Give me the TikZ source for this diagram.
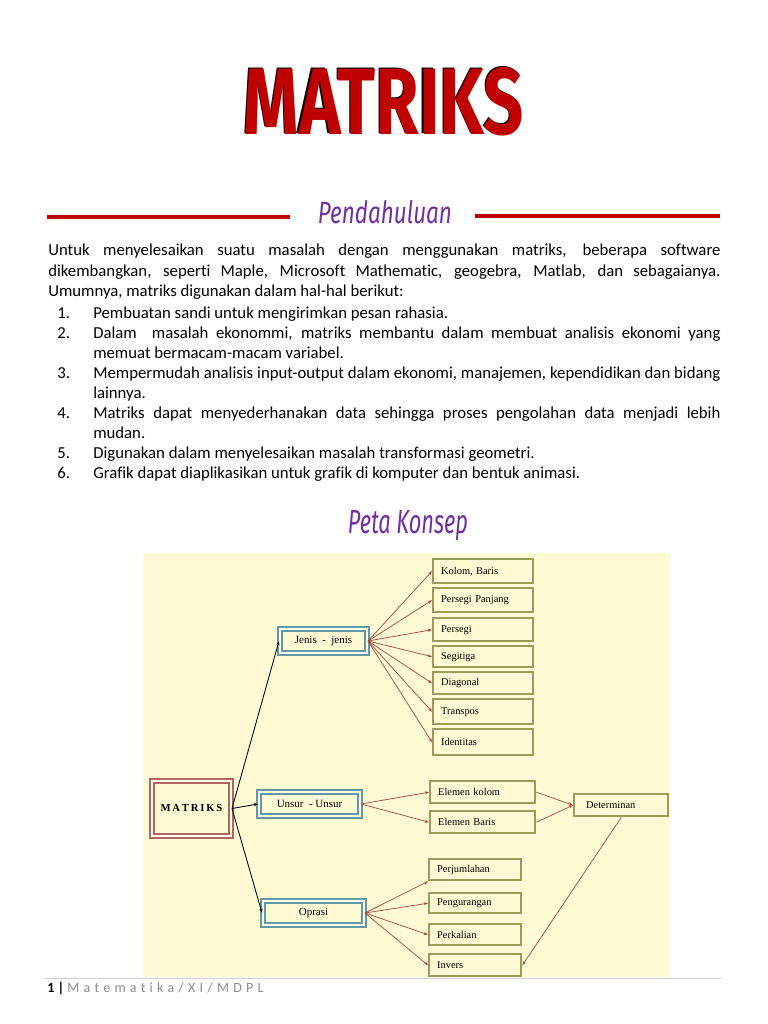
\documentclass[tikz,border=0pt]{standalone}
\usepackage{fontspec}
\setmainfont{Carlito}[Ligatures=NoCommon]
\newfontfamily\mapfont{Liberation Serif}
\newfontfamily\headfont{Fira Sans}
\newfontfamily\footfont{Carlito}[LetterSpace=30, Ligatures=NoCommon]
\usetikzlibrary{arrows.meta}

\definecolor{titlered}{RGB}{192,0,0}
\definecolor{headpurple}{RGB}{112,48,160}
\definecolor{mapbg}{RGB}{254,250,212}
\definecolor{boxolive}{RGB}{155,155,92}
\definecolor{boxteal}{RGB}{98,152,162}
\definecolor{boxrose}{RGB}{176,100,100}
\definecolor{innerfill}{RGB}{255,253,236}
\definecolor{linkred}{RGB}{165,70,60}

\newcommand{\jline}[2]{\makebox[#1][s]{#2}}

\begin{document}
\begin{tikzpicture}[
    x=0.025cm, y=-0.025cm,
    body/.style={anchor=base west, inner sep=0pt, font=\fontsize{11.9}{14}\selectfont},
    leaf/.style={draw=boxolive, line width=1.7pt, fill=mapbg, anchor=north west, inner xsep=0.2cm, inner ysep=0pt, align=left, font=\mapfont\fontsize{7.4}{8}\selectfont, text width=#1},
    branch/.style={draw=boxteal, double=innerfill, double distance=0.8pt, line width=1.4pt, inner sep=0pt, font=\mapfont\fontsize{7.8}{9}\selectfont},
    rootbox/.style={branch, draw=boxrose},
    link/.style={linkred, line width=0.5pt, -{Stealth[length=3pt,width=2.2pt]}},
    trunk/.style={black, line width=0.6pt, -{Stealth[length=3pt,width=2.2pt]}}
]
\useasboundingbox (0,0) rectangle (768,1024);

% ---- title ----
\node[anchor=base, inner sep=0pt, black] (titleshadow) at (382.5,133.5) {\resizebox{7cm}{1.675cm}{\headfont\bfseries MATRIKS}};
\node[anchor=base, inner sep=0pt, titlered] (title) at (384,135) {\resizebox{7cm}{1.675cm}{\headfont\bfseries MATRIKS}};

% ---- pendahuluan ----
\node[anchor=base, inner sep=0pt, headpurple] (intro) at (385,224) {\resizebox{3.35cm}{0.575cm}{\headfont\itshape Pendahuluan}};
\draw[titlered, line width=2.2pt] (47,217) -- (290,217);
\draw[titlered, line width=2.2pt] (475,216) -- (720,216);

\node[body] (p1) at (48,256) {\jline{16.8cm}{Untuk menyelesaikan suatu masalah dengan menggunakan matriks, beberapa software}};
\node[body] (p2) at (48,276) {\jline{16.8cm}{dikembangkan, seperti Maple, Microsoft Mathematic, geogebra, Matlab, dan sebagaianya.}};
\node[body] (p3) at (48,296) {Umumnya, matriks digunakan dalam hal-hal berikut:};

\node[body] (n1) at (57,318) {1.};
\node[body] (i1) at (93,318) {Pembuatan sandi untuk mengirimkan pesan rahasia.};
\node[body] (n2) at (57,338) {2.};
\node[body] (i2) at (93,338) {\jline{15.675cm}{Dalam \ masalah ekonommi, matriks membantu dalam membuat analisis ekonomi yang}};
\node[body] (i2b) at (93,358) {memuat bermacam-macam variabel.};
\node[body] (n3) at (57,378) {3.};
\node[body] (i3) at (93,378) {\jline{15.675cm}{Mempermudah analisis input-output dalam ekonomi, manajemen, kependidikan dan bidang}};
\node[body] (i3b) at (93,398) {lainnya.};
\node[body] (n4) at (57,418) {4.};
\node[body] (i4) at (93,418) {\jline{15.675cm}{Matriks dapat menyederhanakan data sehingga proses pengolahan data menjadi lebih}};
\node[body] (i4b) at (93,438) {mudan.};
\node[body] (n5) at (57,458) {5.};
\node[body] (i5) at (93,458) {Digunakan dalam menyelesaikan masalah transformasi geometri.};
\node[body] (n6) at (57,478) {6.};
\node[body] (i6) at (93,478) {Grafik dapat diaplikasikan untuk grafik di komputer dan bentuk animasi.};

% ---- peta konsep ----
\node[anchor=base, inner sep=0pt, headpurple] (mapttl) at (408,533) {\resizebox{3cm}{0.575cm}{\headfont\itshape Peta Konsep}};
\fill[mapbg] (143,553) rectangle (670,977);

% ---- nodes ----
\node[rootbox, minimum width=1.975cm, minimum height=1.375cm, font=\mapfont\bfseries\fontsize{7.6}{9}\selectfont] (mat) at (191.5,808.5) {M\,A\,T\,R\,I\,K\,S};
\node[branch, minimum width=2.175cm, minimum height=0.6cm] (jenis) at (323.5,641) {Jenis \ - \ jenis};
\node[branch, minimum width=2.525cm, minimum height=0.6cm] (unsur) at (309.5,804) {Unsur \ - Unsur};
\node[branch, minimum width=2.525cm, minimum height=0.6cm] (oprasi) at (313.5,913) {Oprasi};

\node[leaf=2.1cm, minimum height=0.6cm] (kb) at (432,558) {Kolom, Baris};
\node[leaf=2.1cm, minimum height=0.6cm] (pp) at (432,587) {Persegi Panjang};
\node[leaf=2.1cm, minimum height=0.575cm] (ps) at (432,617) {Persegi};
\node[leaf=2.1cm, minimum height=0.525cm] (sg) at (432,645) {Segitiga};
\node[leaf=2.1cm, minimum height=0.55cm] (dg) at (432,671) {Diagonal};
\node[leaf=2.1cm, minimum height=0.625cm] (tp) at (432,698) {Transpos};
\node[leaf=2.1cm, minimum height=0.65cm] (idt) at (432,728) {Identitas};

\node[leaf=2.225cm, minimum height=0.55cm] (ek) at (429,780) {Elemen kolom};
\node[leaf=2.225cm, minimum height=0.55cm] (eb) at (429,810) {Elemen Baris};
\node[leaf=1.75cm, minimum height=0.55cm, inner xsep=0.3cm] (det) at (573,793) {Determinan};

\node[leaf=1.9cm, minimum height=0.525cm] (pj) at (428,858) {Perjumlahan};
\node[leaf=1.9cm, minimum height=0.5cm] (pg) at (428,892) {Pengurangan};
\node[leaf=1.9cm, minimum height=0.525cm] (pk) at (428,923) {Perkalian};
\node[leaf=1.9cm, minimum height=0.55cm] (inv) at (428,953) {Invers};

% ---- edges ----
\draw[trunk] (mat.east) -- (jenis.west);
\draw[trunk] (mat.east) -- (unsur.west);
\draw[trunk] (mat.east) -- (oprasi.west);

\draw[link] (jenis.east) -- (kb.west);
\draw[link] (jenis.east) -- (pp.west);
\draw[link] (jenis.east) -- (ps.west);
\draw[link] (jenis.east) -- (sg.west);
\draw[link] (jenis.east) -- (dg.west);
\draw[link] (jenis.east) -- (tp.west);
\draw[link] (jenis.east) -- (idt.west);

\draw[link] (unsur.east) -- (ek.west);
\draw[link] (unsur.east) -- (eb.west);
\draw[link] (ek.east) -- (det.west);
\draw[link] (eb.east) -- (det.west);
\draw[link] (det.south) -- (inv.east);

\draw[link] (oprasi.east) -- (pj.south west);
\draw[link] (oprasi.east) -- (pg.west);
\draw[link] (oprasi.east) -- (pk.west);
\draw[link] (oprasi.east) -- (inv.west);

% ---- footer ----
\draw[black!18, line width=0.5pt] (45,978) -- (722,978);
\node[anchor=base west, inner sep=0pt, font=\fontsize{10}{12}\selectfont] (foot) at (47,992) {\textbf{1 |} \textcolor{black!45}{\footfont Matematika/XI/MDPL}};

\end{tikzpicture}
\end{document}
